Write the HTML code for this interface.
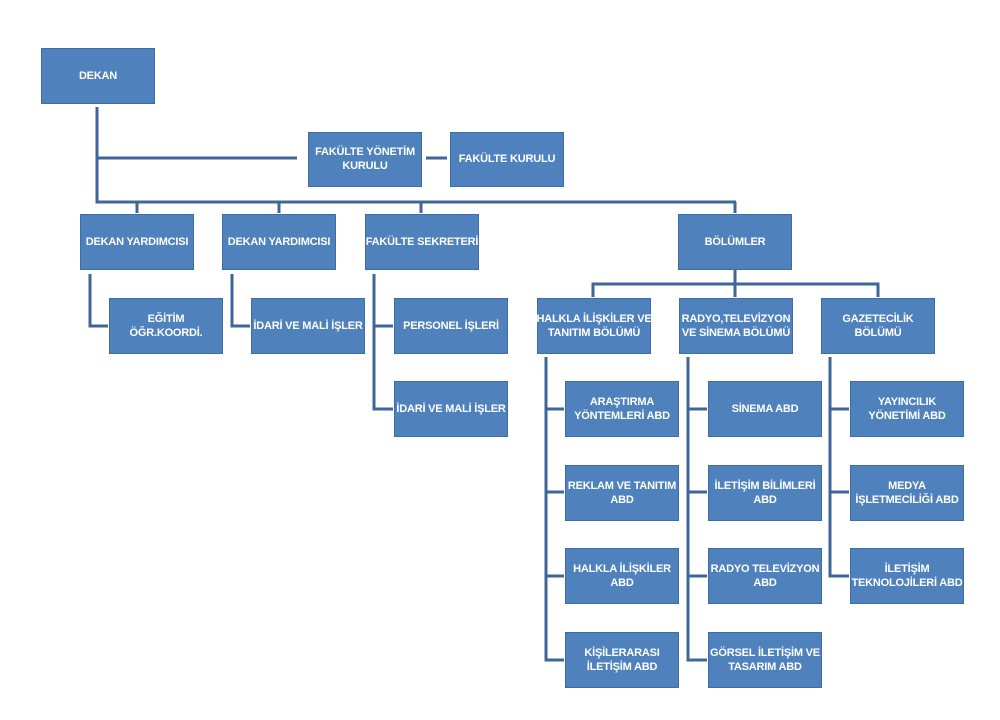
<!DOCTYPE html>
<html><head><meta charset="utf-8"><style>
body{margin:0;width:1000px;height:720px;background:#fff;position:relative;overflow:hidden;font-family:"Liberation Sans",sans-serif}
.b{position:absolute;background:#4f81bd;border:1px solid #3d6da6;box-sizing:border-box;color:#fff;font-weight:bold;font-size:11px;line-height:14px;display:flex;align-items:center;justify-content:center;text-align:center;padding-bottom:1px;letter-spacing:-0.2px;white-space:nowrap}
svg{position:absolute;left:0;top:0}
</style></head><body>
<svg width="1000" height="720"><g stroke="#3e6699" stroke-width="3" fill="none">
<path d="M97 107V202H736"/><path d="M97 158H297"/><path d="M426 158H447"/>
<path d="M137 202V213M279 202V213M421 202V213M735 202V213"/>
<path d="M90 274V326H108"/><path d="M232 274V326H250"/>
<path d="M374 274V409H393M374 326H393"/>
<path d="M735 270V284M593 297V284H878V297M735 284V297"/>
<path d="M546 357V660H564M546 409H564M546 492H564M546 576H564"/>
<path d="M688 357V660H707M688 409H707M688 492H707M688 576H707"/>
<path d="M830 357V576H849M830 409H849M830 492H849"/>
</g></svg>
<div class="b" style="left:41px;top:48px;width:114px;height:56px">DEKAN</div>
<div class="b" style="left:308px;top:132px;width:114px;height:55px">FAKÜLTE YÖNETİM<br>KURULU</div>
<div class="b" style="left:450px;top:132px;width:114px;height:55px">FAKÜLTE KURULU</div>
<div class="b" style="left:80px;top:214px;width:114px;height:56px">DEKAN YARDIMCISI</div>
<div class="b" style="left:222px;top:214px;width:114px;height:56px">DEKAN YARDIMCISI</div>
<div class="b" style="left:365px;top:214px;width:114px;height:56px">FAKÜLTE SEKRETERİ</div>
<div class="b" style="left:678px;top:214px;width:114px;height:56px">BÖLÜMLER</div>
<div class="b" style="left:109px;top:298px;width:114px;height:56px">EĞİTİM<br>ÖĞR.KOORDİ.</div>
<div class="b" style="left:251px;top:298px;width:114px;height:56px">İDARİ VE MALİ İŞLER</div>
<div class="b" style="left:394px;top:298px;width:114px;height:56px">PERSONEL İŞLERİ</div>
<div class="b" style="left:394px;top:381px;width:114px;height:56px">İDARİ VE MALİ İŞLER</div>
<div class="b" style="left:537px;top:298px;width:114px;height:56px">HALKLA İLİŞKİLER VE<br>TANITIM BÖLÜMÜ</div>
<div class="b" style="left:679px;top:298px;width:114px;height:56px">RADYO,TELEVİZYON<br>VE SİNEMA BÖLÜMÜ</div>
<div class="b" style="left:821px;top:298px;width:114px;height:56px">GAZETECİLİK<br>BÖLÜMÜ</div>
<div class="b" style="left:565px;top:381px;width:114px;height:56px">ARAŞTIRMA<br>YÖNTEMLERİ ABD</div>
<div class="b" style="left:565px;top:465px;width:114px;height:56px">REKLAM VE TANITIM<br>ABD</div>
<div class="b" style="left:565px;top:548px;width:114px;height:56px">HALKLA İLİŞKİLER<br>ABD</div>
<div class="b" style="left:565px;top:632px;width:114px;height:56px">KİŞİLERARASI<br>İLETİŞİM ABD</div>
<div class="b" style="left:708px;top:381px;width:114px;height:56px">SİNEMA ABD</div>
<div class="b" style="left:708px;top:465px;width:114px;height:56px">İLETİŞİM BİLİMLERİ<br>ABD</div>
<div class="b" style="left:708px;top:548px;width:114px;height:56px">RADYO TELEVİZYON<br>ABD</div>
<div class="b" style="left:708px;top:632px;width:114px;height:56px">GÖRSEL İLETİŞİM VE<br>TASARIM ABD</div>
<div class="b" style="left:850px;top:381px;width:114px;height:56px">YAYINCILIK<br>YÖNETİMİ ABD</div>
<div class="b" style="left:850px;top:465px;width:114px;height:56px">MEDYA<br>İŞLETMECİLİĞİ ABD</div>
<div class="b" style="left:850px;top:548px;width:114px;height:56px">İLETİŞİM<br>TEKNOLOJİLERİ ABD</div>
</body></html>
